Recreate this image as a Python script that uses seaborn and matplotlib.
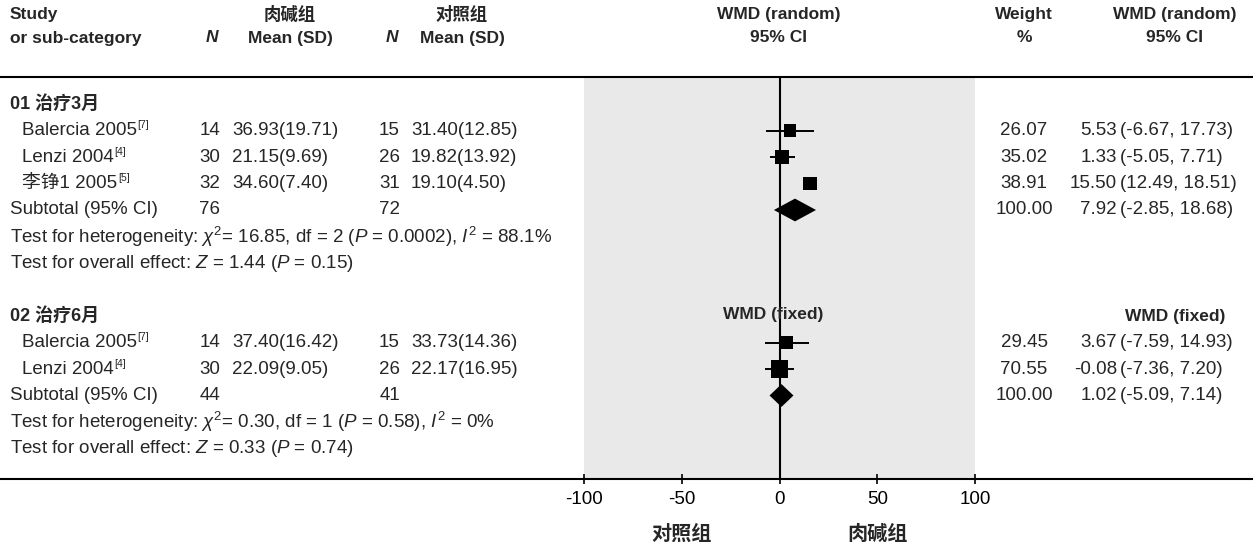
import matplotlib
matplotlib.use("Agg")
import matplotlib.pyplot as plt
import seaborn as sns
import pandas as pd
import numpy as np

# ---- data -------------------------------------------------------------
group_names = ["01 治疗3月", "02 治疗6月"]
group_models = ["WMD (random)", "WMD (fixed)"]

studies_1 = ["Balercia 2005", "Lenzi 2004", "李铮1 2005"]
refs_1 = ["7", "4", "5"]
n_exp_1 = [14, 30, 32]
mean_exp_1 = [36.93, 21.15, 34.60]
sd_exp_1 = [19.71, 9.69, 7.40]
n_ctl_1 = [15, 26, 31]
mean_ctl_1 = [31.40, 19.82, 19.10]
sd_ctl_1 = [12.85, 13.92, 4.50]
weight_1 = [26.07, 35.02, 38.91]
wmd_1 = [5.53, 1.33, 15.50]
lo_1 = [-6.67, -5.05, 12.49]
hi_1 = [17.73, 7.71, 18.51]
sub_1 = [7.92, -2.85, 18.68]
sub_n_1 = [76, 72]
het_1 = r"Test for heterogeneity: $\chi^2$= 16.85, df = 2 ($P$ = 0.0002), $I^2$ = 88.1%"
eff_1 = r"Test for overall effect: $Z$ = 1.44 ($P$ = 0.15)"

studies_2 = ["Balercia 2005", "Lenzi 2004"]
refs_2 = ["7", "4"]
n_exp_2 = [14, 30]
mean_exp_2 = [37.40, 22.09]
sd_exp_2 = [16.42, 9.05]
n_ctl_2 = [15, 26]
mean_ctl_2 = [33.73, 22.17]
sd_ctl_2 = [14.36, 16.95]
weight_2 = [29.45, 70.55]
wmd_2 = [3.67, -0.08]
lo_2 = [-7.59, -7.36]
hi_2 = [14.93, 7.20]
sub_2 = [1.02, -5.09, 7.14]
sub_n_2 = [44, 41]
het_2 = r"Test for heterogeneity: $\chi^2$= 0.30, df = 1 ($P$ = 0.58), $I^2$ = 0%"
eff_2 = r"Test for overall effect: $Z$ = 0.33 ($P$ = 0.74)"

x_ticks = [-100, -50, 0, 50, 100]
favours = ["对照组", "肉碱组"]

# ---- layout -----------------------------------------------------------
sns.set_theme(style="white")
plt.rcParams["font.family"] = ["Liberation Sans", "Noto Sans CJK SC", "DejaVu Sans"]
plt.rcParams["mathtext.fontset"] = "custom"
plt.rcParams["mathtext.rm"] = "Liberation Sans"
plt.rcParams["mathtext.it"] = "Liberation Sans:italic"
plt.rcParams["mathtext.bf"] = "Liberation Sans:bold"

W, H = 1253, 542
ROW0, ROWH = 104, 26.5


def r_of(p):
    return (p - ROW0) / ROWH


fig = plt.figure(figsize=(W / 100, H / 100), dpi=100)
tab = fig.add_axes([0, 0, 1, 1])
tab.set_xlim(0, W)
tab.set_ylim(r_of(H), r_of(0))
tab.axis("off")
tab.set_zorder(3)
tab.patch.set_visible(False)

top_px, bot_px, left_px, right_px = 77, 479, 584, 975
ax = fig.add_axes([left_px / W, 1 - bot_px / H, (right_px - left_px) / W, (bot_px - top_px) / H])
ax.set_xlim(-100, 100)
ax.set_ylim(r_of(bot_px), r_of(top_px))
ax.set_facecolor("#e9e9e9")
for s in ax.spines.values():
    s.set_visible(False)

FS = 13.5   # body text
HS = 12.5   # header text
X_STUDY, X_IND = 10, 22
X_N1, X_M1, X_N2, X_M2 = 220, 232, 400, 411
X_W, X_EST, X_CI = 1024, 1117, 1120
X_RH = 1175

# headers
h1, h2 = r_of(14), r_of(38)
hb = dict(fontsize=HS, fontweight="bold", va="center")
tab.text(X_STUDY, h1, "Study", ha="left", **hb)
tab.text(X_STUDY, h2, "or sub-category", ha="left", **hb)
tab.text(212, h2, "N", ha="center", style="italic", **hb)
tab.text(290, h1, "肉碱组", ha="center", **hb)
tab.text(290, h2, "Mean (SD)", ha="center", **hb)
tab.text(392, h2, "N", ha="center", style="italic", **hb)
tab.text(462, h1, "对照组", ha="center", **hb)
tab.text(462, h2, "Mean (SD)", ha="center", **hb)
tab.text(779, h1, "WMD (random)", ha="center", **hb)
tab.text(779, h2, "95% CI", ha="center", **hb)
tab.text(X_W, h1, "Weight", ha="center", **hb)
tab.text(X_W, h2, "%", ha="center", **hb)
tab.text(X_RH, h1, "WMD (random)", ha="center", **hb)
tab.text(X_RH, h2, "95% CI", ha="center", **hb)

tab.axhline(r_of(top_px), color="black", lw=1.5)
tab.axhline(r_of(bot_px), color="black", lw=1.5)

# build table of studies
groups = [
    (studies_1, refs_1, n_exp_1, mean_exp_1, sd_exp_1, n_ctl_1, mean_ctl_1, sd_ctl_1,
     weight_1, wmd_1, lo_1, hi_1, sub_1, sub_n_1, het_1, eff_1),
    (studies_2, refs_2, n_exp_2, mean_exp_2, sd_exp_2, n_ctl_2, mean_ctl_2, sd_ctl_2,
     weight_2, wmd_2, lo_2, hi_2, sub_2, sub_n_2, het_2, eff_2),
]

rows = []
subs = []
r = 0
for gi, g in enumerate(groups):
    (st, rf, ne, me, se, nc, mc, sc, wt, wm, lo, hi, sub, subn, het, eff) = g
    tab.text(X_STUDY, r, group_names[gi], ha="left", va="center", fontsize=FS - 0.5, fontweight="bold")
    if gi > 0:
        ax.text(-3, r - 0.05, group_models[gi], ha="center", va="center", fontsize=HS, fontweight="bold")
        tab.text(X_RH, r, group_models[gi], ha="center", va="center", fontsize=HS, fontweight="bold")
    r += 1
    for i in range(len(st)):
        rows.append(dict(row=r, study=st[i], ref=rf[i], n_exp=ne[i], mean_exp=me[i], sd_exp=se[i],
                         n_ctl=nc[i], mean_ctl=mc[i], sd_ctl=sc[i], weight=wt[i],
                         wmd=wm[i], lo=lo[i], hi=hi[i]))
        r += 1
    subs.append(dict(row=r, est=sub[0], lo=sub[1], hi=sub[2], n_exp=subn[0], n_ctl=subn[1]))
    r += 1
    tab.text(X_STUDY, r, het, ha="left", va="center", fontsize=FS)
    r += 1
    tab.text(X_STUDY, r, eff, ha="left", va="center", fontsize=FS)
    r += 2

df = pd.DataFrame(rows)
sub_df = pd.DataFrame(subs)

tx = dict(fontsize=FS, va="center")
for _, d in df.iterrows():
    name = tab.text(X_IND, d.row, d.study, ha="left", **tx)
    tab.annotate(f"[{d.ref}]", xy=(1, 0.82), xycoords=name, xytext=(0.5, 0),
                 textcoords="offset points", fontsize=7.5, ha="left", va="center")
    tab.text(X_N1, d.row, f"{d.n_exp}", ha="right", **tx)
    tab.text(X_M1, d.row, f"{d.mean_exp:.2f}({d.sd_exp:.2f})", ha="left", **tx)
    tab.text(X_N2, d.row, f"{d.n_ctl}", ha="right", **tx)
    tab.text(X_M2, d.row, f"{d.mean_ctl:.2f}({d.sd_ctl:.2f})", ha="left", **tx)
    tab.text(X_W, d.row, f"{d.weight:.2f}", ha="center", **tx)
    tab.text(X_EST, d.row, f"{d.wmd:.2f}", ha="right", **tx)
    tab.text(X_CI, d.row, f"({d.lo:.2f}, {d.hi:.2f})", ha="left", **tx)

for _, d in sub_df.iterrows():
    tab.text(X_STUDY, d.row, "Subtotal (95% CI)", ha="left", **tx)
    tab.text(X_N1, d.row, f"{int(d.n_exp)}", ha="right", **tx)
    tab.text(X_N2, d.row, f"{int(d.n_ctl)}", ha="right", **tx)
    tab.text(X_W, d.row, "100.00", ha="center", **tx)
    tab.text(X_EST, d.row, f"{d.est:.2f}", ha="right", **tx)
    tab.text(X_CI, d.row, f"({d.lo:.2f}, {d.hi:.2f})", ha="left", **tx)

# ---- forest -----------------------------------------------------------
ax.axvline(0, color="black", lw=1.5, zorder=2)
ax.hlines(df["row"], df["lo"], df["hi"], color="black", lw=1.4, zorder=3)
side_px = 4 + 1.6 * np.sqrt(df["weight"])
df["s"] = (side_px * 0.72) ** 2
sns.scatterplot(data=df, x="wmd", y="row", marker="s", s=df["s"].values, color="black",
                linewidth=0, ax=ax, legend=False, zorder=4)
for _, d in sub_df.iterrows():
    ax.fill([d.lo, d.est, d.hi, d.est], [d.row, d.row - 0.43, d.row, d.row + 0.43],
            color="black", zorder=4, lw=0)

ax.set_xlabel("")
ax.set_ylabel("")
ax.set_yticks([])
ax.set_xticks(x_ticks)
ax.set_xticklabels([str(t) for t in x_ticks])
ax.tick_params(axis="x", direction="inout", length=7, width=1.2, labelsize=FS, pad=5,
               colors="black", bottom=True)
fav_y = r_of(bot_px) + (534 - bot_px) / ROWH
ax.text(-50, fav_y, favours[0], ha="center", va="center", fontsize=14.5, fontweight="bold")
ax.text(50, fav_y, favours[1], ha="center", va="center", fontsize=14.5, fontweight="bold")

fig.savefig("out.png", dpi=100)
